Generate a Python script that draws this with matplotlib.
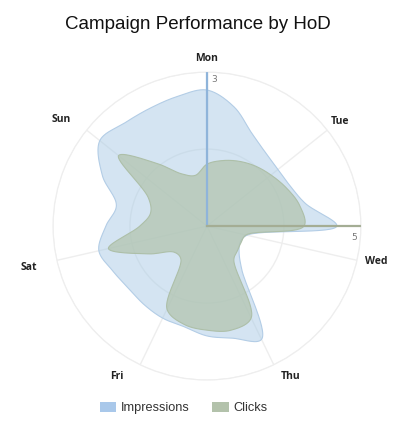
import numpy as np
import matplotlib.pyplot as plt
from matplotlib.patches import Patch

# Categories and values (4 readings per day, starting at Mon)
days = ["Mon", "Tue", "Wed", "Thu", "Fri", "Sat", "Sun"]
readings_per_day = 4

impressions = [2.65, 2.38, 2.01, 1.83, 1.77, 1.80, 1.97,
               2.53, 0.80, 0.72, 0.80, 1.09, 2.45, 2.24,
               2.14, 2.01, 1.99, 1.96, 1.95, 2.03, 2.16,
               1.97, 1.81, 2.26, 2.67, 2.57, 2.55, 2.59]
clicks = [2.01, 2.18, 2.34, 2.50, 2.66, 2.86, 3.08,
          3.15, 1.30, 1.23, 1.27, 1.40, 3.31, 3.47,
          3.38, 3.28, 2.99, 1.36, 1.36, 2.08, 3.28,
          2.18, 1.88, 2.11, 3.67, 2.60, 1.88, 1.69]
imp_max = 3
clk_max = 5


def smooth_closed(values, vmax, steps=30, alpha=0.5):
    # closed centripetal Catmull-Rom spline through the points, in x/y space
    n = len(values)
    ang = np.pi / 2 - 2 * np.pi * np.arange(n) / n
    r = np.asarray(values) / vmax
    pts = np.column_stack([r * np.cos(ang), r * np.sin(ang)])
    segs = []
    for i in range(n):
        p0, p1, p2, p3 = pts[i - 1], pts[i], pts[(i + 1) % n], pts[(i + 2) % n]
        t0 = 0.0
        t1 = t0 + np.linalg.norm(p1 - p0) ** alpha
        t2 = t1 + np.linalg.norm(p2 - p1) ** alpha
        t3 = t2 + np.linalg.norm(p3 - p2) ** alpha
        t = np.linspace(t1, t2, steps, endpoint=False)[:, None]
        a1 = (t1 - t) / (t1 - t0) * p0 + (t - t0) / (t1 - t0) * p1
        a2 = (t2 - t) / (t2 - t1) * p1 + (t - t1) / (t2 - t1) * p2
        a3 = (t3 - t) / (t3 - t2) * p2 + (t - t2) / (t3 - t2) * p3
        b1 = (t2 - t) / (t2 - t0) * a1 + (t - t0) / (t2 - t0) * a2
        b2 = (t3 - t) / (t3 - t1) * a2 + (t - t1) / (t3 - t1) * a3
        segs.append((t2 - t) / (t2 - t1) * b1 + (t - t1) / (t2 - t1) * b2)
    xy = np.vstack(segs + [pts[:1]])
    theta = np.unwrap(np.arctan2(xy[:, 1], xy[:, 0]))
    return theta, np.hypot(xy[:, 0], xy[:, 1])


fig = plt.figure(figsize=(4.09, 4.29), dpi=100)
ax = fig.add_axes([0.1295, 0.114, 0.753, 0.718], projection="polar")

day_angles = np.pi / 2 - 2 * np.pi * np.arange(len(days)) / len(days)

th, rr = smooth_closed(impressions, imp_max)
ax.fill(th, rr, facecolor="#aacbe6", alpha=0.5, edgecolor="none", zorder=2)
ax.plot(th, rr, color="#b3cde6", lw=0.8, zorder=2)

th, rr = smooth_closed(clicks, clk_max)
ax.fill(th, rr, facecolor="#b1c3ac", alpha=0.7, edgecolor="none", zorder=3)
ax.plot(th, rr, color="#adbfa8", lw=0.8, zorder=3)

# value axes: impressions on Mon spoke, clicks on the horizontal
ax.plot([np.pi / 2, np.pi / 2], [0, 1], color="#8fb4da", lw=1.6, zorder=4)
ax.plot([0, 0], [0, 1], color="#a4ad94", lw=1.6, zorder=4)
ax.annotate(str(imp_max), xy=(np.pi / 2, 1), xytext=(3, -2), textcoords="offset points",
            ha="left", va="top", fontsize=6.5, color="#777777")
ax.annotate(str(clk_max), xy=(0, 1), xytext=(-3, -5), textcoords="offset points",
            ha="right", va="top", fontsize=6.5, color="#777777")

ax.set_xlim(0, 2 * np.pi)
ax.set_ylim(0, 1)
ax.set_yticks([0.5, 1.0])
ax.set_yticklabels([])
ax.set_xticks(day_angles % (2 * np.pi))
ax.set_xticklabels([])
ax.grid(True, color="#eeeeee", lw=1)
ax.spines["polar"].set_color("#eeeeee")
ax.set_facecolor("white")

label_pos = [(90, 1.09), (38, 1.10), (-11.7, 1.12), (-61, 1.12),
             (-121, 1.14), (-167, 1.19), (143.8, 1.175)]
for d, (a, rho) in zip(days, label_pos):
    ax.text(np.deg2rad(a % 360), rho, d, ha="center", va="center", fontsize=7.5,
            fontweight="bold", family="Open Sans", color="#222222", clip_on=False)

fig.text(0.484, 0.942, "Campaign Performance by HoD", ha="center", va="center",
         fontsize=13.5, family="Liberation Sans", color="#111111")

handles = [Patch(facecolor="#a9c8ea", edgecolor="none"),
           Patch(facecolor="#b3c2ab", edgecolor="none")]
fig.legend(handles, ["Impressions", "Clicks"], loc="center", bbox_to_anchor=(0.449, 0.049),
           ncol=2, frameon=False, handlelength=1.3, handleheight=0.8, handletextpad=0.35,
           columnspacing=1.8, prop={"family": "Liberation Sans", "size": 9.2},
           labelcolor="#333333")

fig.savefig("out.png", dpi=100)
